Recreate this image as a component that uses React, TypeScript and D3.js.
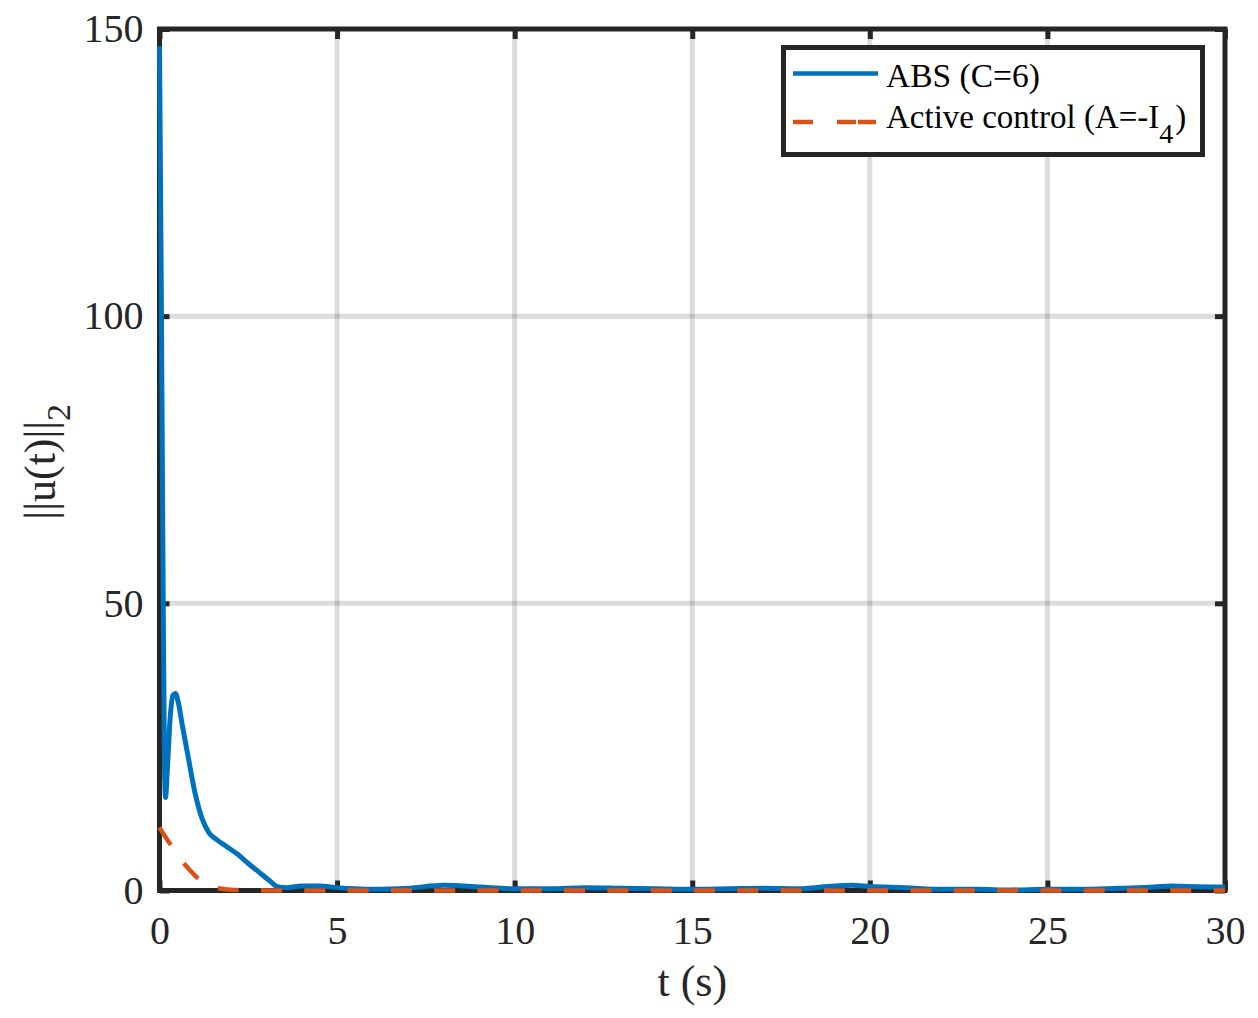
import { useEffect, useRef } from "react";
import * as d3 from "d3";

// ABS (C=6) control norm
const absT = [
  0, 0.05, 0.1, 0.14, 0.17, 0.22, 0.3, 0.38, 0.45, 0.52, 0.65, 0.8, 1.0, 1.2,
  1.4, 1.6, 1.9, 2.2, 2.5, 2.8, 3.1, 3.35, 3.6, 4.0, 4.5, 5, 5.5, 6, 7, 8, 9,
  10, 11, 12, 13, 14, 15, 16, 17, 18, 19, 19.5, 20, 21, 22, 23, 24, 25, 26, 27,
  28, 28.5, 29, 30,
];
const absU = [
  147, 105, 55, 22, 16.2, 21, 30, 34, 34.3, 33, 28.5, 23.5, 17, 12.5, 10, 8.9,
  7.6, 6.3, 4.7, 3.2, 1.7, 0.6, 0.5, 0.8, 0.8, 0.5, 0.3, 0.2, 0.4, 0.9, 0.6,
  0.3, 0.3, 0.5, 0.4, 0.3, 0.2, 0.3, 0.4, 0.3, 0.8, 0.9, 0.7, 0.5, 0.2, 0.2,
  0.1, 0.2, 0.2, 0.4, 0.6, 0.8, 0.7, 0.6,
];

// Active control (A=-I4)
const actT = [0, 0.2, 0.4, 0.6, 0.8, 1.0, 1.2, 1.4, 1.7, 2, 2.5, 3, 30];
const actU = [11, 9, 7.2, 5.4, 3.9, 2.6, 1.5, 0.8, 0.35, 0.15, 0.05, 0.02, 0];

const xTicks = [0, 5, 10, 15, 20, 25, 30];
const yTicks = [0, 50, 100, 150];

const FONT = '"Liberation Serif", "Times New Roman", Times, serif';
const INK = "#262626";
const BLUE = "#0072BD";
const ORANGE = "#D95319";

export default function App() {
  const svgRef = useRef<SVGSVGElement>(null);

  useEffect(() => {
    if (!svgRef.current) return;
    const svg = d3.select(svgRef.current);
    svg.selectAll("*").remove();

    const left = 159.5;
    const right = 1225;
    const top = 29;
    const bottom = 890.5;

    const x = d3.scaleLinear().domain([0, 30]).range([left, right]);
    const y = d3.scaleLinear().domain([0, 150]).range([bottom, top]);

    // Grid (semi-transparent, darker where lines cross)
    const grid = svg
      .append("g")
      .attr("stroke", INK)
      .attr("stroke-opacity", 0.16)
      .attr("stroke-width", 5);
    xTicks.slice(1, -1).forEach((t) =>
      grid.append("line").attr("x1", x(t)).attr("x2", x(t)).attr("y1", top).attr("y2", bottom)
    );
    yTicks.slice(1, -1).forEach((t) =>
      grid.append("line").attr("x1", left).attr("x2", right).attr("y1", y(t)).attr("y2", y(t))
    );

    const styleAxis = (g: d3.Selection<SVGGElement, unknown, null, undefined>, showText: boolean) => {
      g.select(".domain").remove();
      g.selectAll(".tick line").attr("stroke", INK).attr("stroke-width", 5);
      if (showText) {
        g.selectAll(".tick text")
          .attr("fill", INK)
          .attr("font-family", FONT)
          .attr("font-size", 40);
      } else {
        g.selectAll(".tick text").remove();
      }
    };

    svg
      .append("g")
      .attr("transform", `translate(0,${bottom})`)
      .call(d3.axisBottom(x).tickValues(xTicks).tickSizeInner(-10).tickSizeOuter(0).tickPadding(25))
      .call((g) => styleAxis(g, true))
      .attr("font-family", FONT);
    svg
      .append("g")
      .attr("transform", `translate(0,${top})`)
      .call(d3.axisTop(x).tickValues(xTicks).tickSizeInner(-10).tickSizeOuter(0))
      .call((g) => styleAxis(g, false));
    svg
      .append("g")
      .attr("transform", `translate(${left},0)`)
      .call(d3.axisLeft(y).tickValues(yTicks).tickSizeInner(-10).tickSizeOuter(0).tickPadding(16))
      .call((g) => styleAxis(g, true))
      .attr("font-family", FONT);
    svg
      .append("g")
      .attr("transform", `translate(${right},0)`)
      .call(d3.axisRight(y).tickValues(yTicks).tickSizeInner(-10).tickSizeOuter(0))
      .call((g) => styleAxis(g, false));

    // Box
    svg
      .append("rect")
      .attr("x", left)
      .attr("y", top)
      .attr("width", right - left)
      .attr("height", bottom - top)
      .attr("fill", "none")
      .attr("stroke", INK)
      .attr("stroke-width", 5);

    const line = d3
      .line<[number, number]>()
      .x((d) => x(d[0]))
      .y((d) => y(d[1]))
      .curve(d3.curveMonotoneX);

    const actData = actT.map((t, i) => [t, actU[i]] as [number, number]);
    const absData = absT.map((t, i) => [t, absU[i]] as [number, number]);

    svg
      .append("path")
      .attr("d", line(absData))
      .attr("fill", "none")
      .attr("stroke", BLUE)
      .attr("stroke-width", 5)
      .attr("stroke-linejoin", "round");

    svg
      .append("path")
      .attr("d", line(actData))
      .attr("fill", "none")
      .attr("stroke", ORANGE)
      .attr("stroke-width", 4.5)
      .attr("stroke-dasharray", "21,22.3");

    // Axis labels
    svg
      .append("text")
      .attr("x", (left + right) / 2)
      .attr("y", 996)
      .attr("text-anchor", "middle")
      .attr("fill", INK)
      .attr("font-family", FONT)
      .attr("font-size", 44)
      .text("t (s)");

    const yl = svg
      .append("text")
      .attr("transform", `translate(55,${(top + bottom) / 2 + 2}) rotate(-90)`)
      .attr("text-anchor", "middle")
      .attr("fill", INK)
      .attr("font-family", FONT)
      .attr("font-size", 44);
    yl.append("tspan").text("||u(t)||");
    yl.append("tspan").attr("dy", 15).attr("font-size", 34).text("2");

    // Legend
    const lg = svg.append("g").attr("font-family", FONT);
    lg.append("rect")
      .attr("x", 783.5)
      .attr("y", 47.5)
      .attr("width", 419)
      .attr("height", 107)
      .attr("fill", "white")
      .attr("stroke", INK)
      .attr("stroke-width", 5);
    lg.append("line")
      .attr("x1", 793)
      .attr("x2", 878)
      .attr("y1", 73.5)
      .attr("y2", 73.5)
      .attr("stroke", BLUE)
      .attr("stroke-width", 4.5);
    lg.append("line")
      .attr("x1", 793)
      .attr("x2", 876)
      .attr("y1", 122)
      .attr("y2", 122)
      .attr("stroke", ORANGE)
      .attr("stroke-width", 4.5)
      .attr("stroke-dasharray", "20,24,19,2,18");
    lg.append("text")
      .attr("x", 886)
      .attr("y", 87)
      .attr("fill", "#000")
      .attr("font-size", 33.5)
      .text("ABS (C=6)");
    const t2 = lg
      .append("text")
      .attr("x", 886)
      .attr("y", 128)
      .attr("fill", "#000")
      .attr("font-size", 33);
    t2.append("tspan").text("Active control (A=-I");
    t2.append("tspan").attr("dy", 15).attr("font-size", 28).text("4");
    t2.append("tspan").attr("dy", -15).attr("dx", 2).text(")");
  }, []);

  return (
    <svg
      ref={svgRef}
      width={1258}
      height={1018}
      style={{ position: "absolute", left: 0, top: 0, background: "white" }}
    />
  );
}
